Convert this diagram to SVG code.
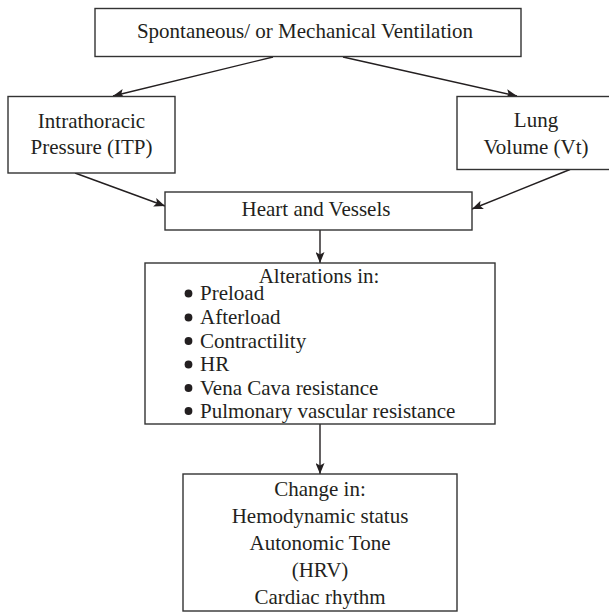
<svg xmlns="http://www.w3.org/2000/svg" width="609" height="612" viewBox="0 0 609 612">
  <defs>
    <marker id="arrow" viewBox="0 0 11 9" refX="11" refY="4.5" markerWidth="11" markerHeight="9" markerUnits="userSpaceOnUse" orient="auto">
      <path d="M0,0 L11,4.5 L0,9 L2.5,4.5 z" fill="#231f20"/>
    </marker>
  </defs>
  <style>
    .box { fill: #ffffff; stroke: #333333; stroke-width: 1.4; }
    .lbl { font-family: "Liberation Serif", "Times New Roman", serif; font-size: 21px; fill: #231f20; }
    .mid { text-anchor: middle; }
    .dot { fill: #231f20; }
    .conn { fill: none; stroke: #231f20; stroke-width: 1.4; marker-end: url(#arrow); }
  </style>
  <rect width="609" height="612" fill="#ffffff"/>

  <g id="connectors">
    <line class="conn" x1="273" y1="57" x2="113" y2="96"/>
    <line class="conn" x1="343" y1="57" x2="517" y2="96"/>
    <line class="conn" x1="75" y1="173" x2="165" y2="206"/>
    <line class="conn" x1="570" y1="169.5" x2="472" y2="209"/>
    <line class="conn" x1="320" y1="230" x2="320" y2="263"/>
    <line class="conn" x1="320" y1="424" x2="320" y2="474"/>
  </g>

  <g id="ventilation">
    <rect class="box" x="95" y="8.5" width="426" height="48"/>
    <text class="lbl mid" x="305" y="38">Spontaneous/ or Mechanical Ventilation</text>
  </g>

  <g id="itp">
    <rect class="box" x="8" y="96.5" width="167" height="76.5"/>
    <text class="lbl mid" x="91.5" y="128">Intrathoracic</text>
    <text class="lbl mid" x="91.5" y="154">Pressure (ITP)</text>
  </g>

  <g id="lung-volume">
    <rect class="box" x="457" y="96.5" width="158" height="73"/>
    <text class="lbl mid" x="536" y="127">Lung</text>
    <text class="lbl mid" x="536" y="154">Volume (Vt)</text>
  </g>

  <g id="heart">
    <rect class="box" x="165" y="192" width="307" height="38"/>
    <text class="lbl mid" x="316" y="216">Heart and Vessels</text>
  </g>

  <g id="alterations">
    <rect class="box" x="145" y="263" width="350" height="161"/>
    <text class="lbl mid" x="319" y="283">Alterations in:</text>
    <circle class="dot" cx="188.5" cy="293.5" r="3.9"/>
    <text class="lbl" x="200" y="300">Preload</text>
    <circle class="dot" cx="188.5" cy="317.5" r="3.9"/>
    <text class="lbl" x="200" y="324">Afterload</text>
    <circle class="dot" cx="188.5" cy="341" r="3.9"/>
    <text class="lbl" x="200" y="347.5">Contractility</text>
    <circle class="dot" cx="188.5" cy="364.5" r="3.9"/>
    <text class="lbl" x="200" y="371">HR</text>
    <circle class="dot" cx="188.5" cy="388" r="3.9"/>
    <text class="lbl" x="200" y="394.5">Vena Cava resistance</text>
    <circle class="dot" cx="188.5" cy="411" r="3.9"/>
    <text class="lbl" x="200" y="417.5">Pulmonary vascular resistance</text>
  </g>

  <g id="change">
    <rect class="box" x="183" y="474" width="274" height="137"/>
    <text class="lbl mid" x="320" y="496">Change in:</text>
    <text class="lbl mid" x="320" y="523">Hemodynamic status</text>
    <text class="lbl mid" x="320" y="550">Autonomic Tone</text>
    <text class="lbl mid" x="320" y="577">(HRV)</text>
    <text class="lbl mid" x="320" y="604">Cardiac rhythm</text>
  </g>
</svg>
